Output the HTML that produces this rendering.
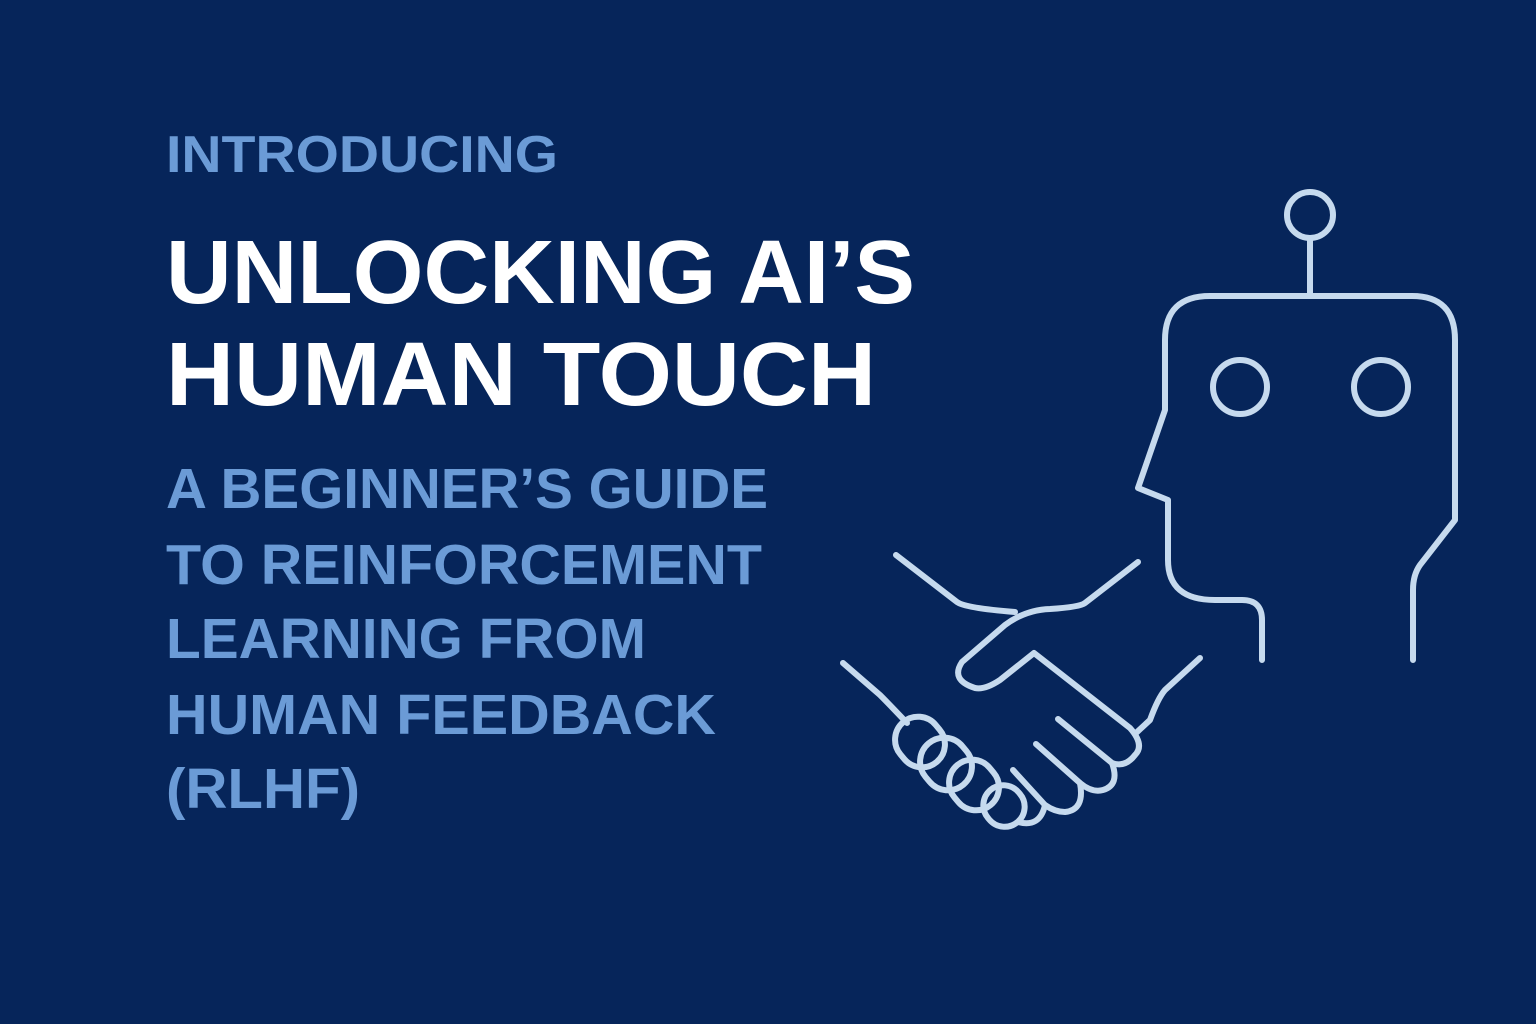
<!DOCTYPE html>
<html><head><meta charset="utf-8"><style>
html,body{margin:0;padding:0;background:#06255a;}
svg{display:block}
text{font-family:"Liberation Sans","DejaVu Sans",sans-serif;font-weight:bold}
</style></head><body>
<svg width="1536" height="1024" viewBox="0 0 1536 1024" xmlns="http://www.w3.org/2000/svg">
<rect width="1536" height="1024" fill="#06255a"/>
<text x="166" y="172" font-size="52" fill="#6b9bd6" textLength="392" lengthAdjust="spacingAndGlyphs">INTRODUCING</text>
<text x="166" y="303" font-size="90" fill="#ffffff" textLength="749" lengthAdjust="spacingAndGlyphs">UNLOCKING AI’S</text>
<text x="166" y="405" font-size="90" fill="#ffffff" textLength="710" lengthAdjust="spacingAndGlyphs">HUMAN TOUCH</text>
<g font-size="57" fill="#6b9bd6">
<text x="166" y="508" textLength="602" lengthAdjust="spacingAndGlyphs">A BEGINNER’S GUIDE</text>
<text x="166" y="584" textLength="596" lengthAdjust="spacingAndGlyphs">TO REINFORCEMENT</text>
<text x="166" y="658" textLength="480" lengthAdjust="spacingAndGlyphs">LEARNING FROM</text>
<text x="166" y="734" textLength="550" lengthAdjust="spacingAndGlyphs">HUMAN FEEDBACK</text>
<text x="166" y="808" textLength="194" lengthAdjust="spacingAndGlyphs">(RLHF)</text>
</g>
<g fill="none" stroke="#c6daee" stroke-width="6" stroke-linecap="round" stroke-linejoin="round">
<circle cx="1310" cy="215" r="23"/>
<line x1="1310" y1="238" x2="1310" y2="296"/>
<path d="M1262 660 V620 Q1262 600 1242 600 H1215 Q1168 600 1168 560 V500 L1138 488 L1165 410 V340 Q1165 296 1210 296 H1412 Q1455 296 1455 340 V520 L1420 565 Q1413 575 1413 590 V660"/>
<circle cx="1240" cy="387" r="27"/>
<circle cx="1381" cy="387" r="27"/>
<path d="M896 555 L957 602 Q965 608 1015 612"/>
<path d="M1138 562 L1085 603 Q1080 607 1050 609 Q1025 610 1005 625 L962 662 Q950 680 975 688 Q985 690 1000 680 L1034 653 L1130 728 Q1145 745 1135 755 Q1125 768 1112 763 L1058 719"/>
<path d="M1200 658 L1165 690 Q1158 698 1150 720 L1136 733"/>
<path d="M1112 763 Q1120 785 1103 790 Q1092 793 1080 783 L1036 744"/>
<path d="M1080 783 Q1085 810 1065 812 Q1055 812 1045 805 L1013 770"/>
<path d="M843 663 L880 695 Q890 705 907 723"/>
<rect x="897" y="716" width="46" height="52" rx="23" transform="rotate(-40 920 742)"/>
<rect x="922" y="737" width="48" height="54" rx="24" transform="rotate(-40 946 764)"/>
<rect x="951" y="759" width="46" height="52" rx="23" transform="rotate(-40 974 785)"/>
<rect x="984" y="785" width="40" height="42" rx="20" transform="rotate(-40 1004 806)"/>
<path d="M1045 805 Q1040 828 1018 822"/>
</g>
</svg>
</body></html>
